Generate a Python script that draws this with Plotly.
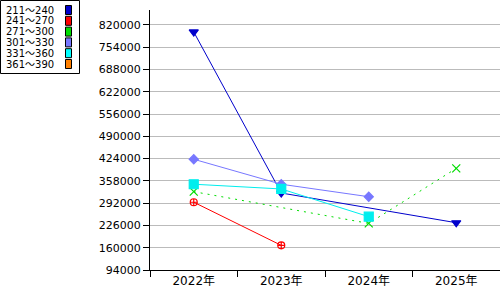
import plotly.graph_objects as go

years = ["2022年", "2023年", "2024年", "2025年"]
series_names = ["211～240", "241～270", "271～300", "301～330", "331～360", "361～390"]
s211 = [799000, 322000, None, 234000]
s241 = [294700, 167000, None, None]
s271 = [326000, None, 232000, 395000]
s301 = [422000, 348000, 311000, None]
s331 = [348000, 334000, 252000, None]
s361 = [None, None, None, None]
y_ticks = [94000, 160000, 226000, 292000, 358000, 424000, 490000, 556000, 622000, 688000, 754000, 820000]

colors = ["#0000CC", "#FF0000", "#00DD00", "#7777FF", "#00EEEE", "#FF8000"]
legend_colors = ["#0000CC", "#FF0000", "#00DD00", "#7777FF", "#00FFFF", "#FF8000"]
symbols = ["triangle-down", "circle-cross-open", "x-thin-open", "diamond", "square", "circle"]
sizes = [8, 7, 8, 7, 9, 7]
dashes = ["solid", "solid", "2px,5px", "solid", "solid", "solid"]
data = [s211, s241, s271, s301, s331, s361]

fig = go.Figure()
for name, vals, c, sym, sz, d in zip(series_names, data, colors, symbols, sizes, dashes):
    fig.add_trace(go.Scatter(
        x=years, y=vals, name=name, mode="lines+markers", connectgaps=True,
        line=dict(color=c, width=1, dash=d),
        marker=dict(symbol=sym, size=sz, color=c, line=dict(color=c, width=1.2)),
        showlegend=False,
    ))

fam = "DejaVu Sans, Noto Sans CJK JP"
font = dict(family=fam, size=11, color="#000000")

fig.update_layout(
    width=500, height=300,
    margin=dict(l=150, r=0, t=10, b=30),
    paper_bgcolor="white", plot_bgcolor="white",
    font=font,
    xaxis=dict(type="category", categoryorder="array", categoryarray=years,
               range=[-0.5, 3.5], tickson="boundaries", ticks="outside", ticklen=6,
               tickcolor="black", showline=True, linecolor="black", linewidth=1,
               showgrid=False, zeroline=False, tickfont=dict(family=fam, size=12, color="black")),
    yaxis=dict(range=[94000, 864000], tickmode="array", tickvals=y_ticks,
               ticktext=[str(v) for v in y_ticks], ticks="outside", ticklen=6,
               tickcolor="black", showline=True, linecolor="black", linewidth=1,
               showgrid=True, gridcolor="#BBBBBB", gridwidth=1, zeroline=False,
               tickfont=font),
)

# legend box
fig.add_shape(type="rect", xref="paper", yref="paper",
              x0=(0.5 - 150) / 350, x1=(79.5 - 150) / 350,
              y0=(270 - 73.5) / 260, y1=(270 - 0.5) / 260,
              line=dict(color="black", width=1), fillcolor="white", layer="above")
for i, (name, c) in enumerate(zip(series_names, legend_colors)):
    yc = 10 + i * 10.8
    fig.add_annotation(xref="paper", yref="paper", x=(5 - 150) / 350, y=(270 - yc) / 260,
                       text=name, showarrow=False, xanchor="left", yanchor="middle",
                       borderpad=0,
                       font=dict(family=fam, size=10, color="black"))
    fig.add_shape(type="rect", xref="paper", yref="paper",
                  x0=(65.5 - 150) / 350, x1=(71.5 - 150) / 350,
                  y0=(270 - (yc + 4.5)) / 260, y1=(270 - (yc - 4.5)) / 260,
                  line=dict(color="black", width=1), fillcolor=c, layer="above")

fig.write_html("out.html")
